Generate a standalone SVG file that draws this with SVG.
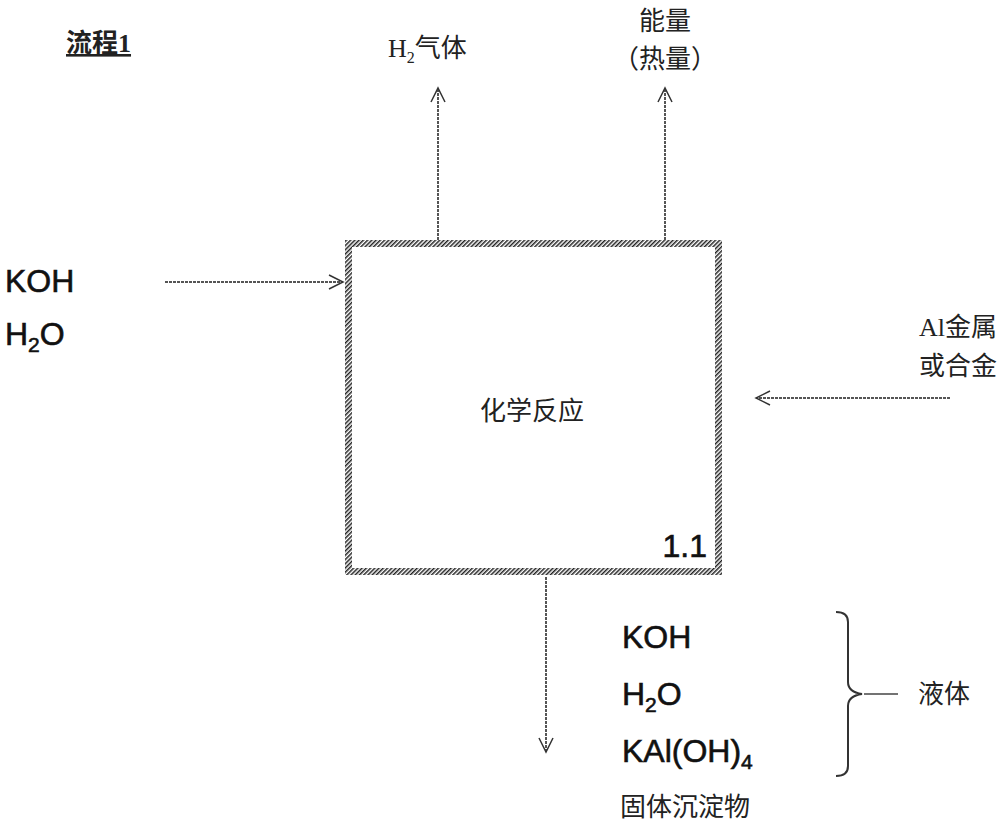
<svg xmlns="http://www.w3.org/2000/svg" width="1000" height="836" viewBox="0 0 1000 836">
<defs>
<pattern id="h" width="3" height="3" patternUnits="userSpaceOnUse" patternTransform="rotate(45)"><rect width="1.5" height="3" fill="#222"/></pattern>
<marker id="a" markerWidth="20" markerHeight="20" refX="15" refY="8" orient="auto" markerUnits="userSpaceOnUse"><path d="M1,1 L15,8 L1,15" fill="none" stroke="#333" stroke-width="1.5"/></marker>
</defs>
<style>
.l{stroke:#555;stroke-width:2;stroke-dasharray:3 1;fill:none;marker-end:url(#a)}
.c{font-family:"Liberation Serif","Noto Sans CJK SC",serif;font-size:26px;fill:#222}
.s{font-family:"Liberation Sans","Noto Sans CJK SC",sans-serif;font-size:32px;fill:#111;font-weight:500;stroke:#111;stroke-width:0.6}
</style>
<rect width="1000" height="836" fill="#fff"/>
<text x="66" y="52" class="c" font-size="27" font-weight="bold" text-decoration="underline">流程1</text>
<g id="box">
<path d="M345,240H722V575H345Z M352,247V568H715V247Z" fill="url(#h)" fill-rule="evenodd"/>
<text x="532" y="420" class="c" text-anchor="middle">化学反应</text>
<text x="707" y="557" class="s" font-size="27" stroke-width="0" text-anchor="end">1.1</text>
</g>
<g id="connectors">
<path class="l" d="M165,282H343"/>
<path class="l" d="M950,398H756"/>
<path class="l" d="M438,240V88"/>
<path class="l" d="M665,240V88"/>
<path class="l" d="M546,577V752"/>
<path d="M836,612q12,0 12,10v60q0,10 14,12q-14,2 -14,12v60q0,10 -12,10" fill="none" stroke="#333" stroke-width="2"/>
<path d="M864,694H898" stroke="#444" stroke-width="1.5"/>
</g>
<g id="in1"><text x="5" y="292" class="s">KOH</text><text x="5" y="345" class="s">H<tspan font-size="21" dy="7">2</tspan><tspan dy="-7">O</tspan></text></g>
<g id="in2"><text x="997" y="336" class="c" text-anchor="end">Al金属</text><text x="997" y="375" class="c" text-anchor="end">或合金</text></g>
<g id="h2"><text x="388" y="57" class="c">H<tspan font-size="16" dy="6">2</tspan><tspan dy="-6">气体</tspan></text></g>
<g id="en"><text x="665" y="30" class="c" text-anchor="middle">能量</text><text x="665" y="68" class="c" text-anchor="middle">（热量）</text></g>
<g id="out"><text x="622" y="648" class="s">KOH</text><text x="622" y="705" class="s">H<tspan font-size="21" dy="7">2</tspan><tspan dy="-7">O</tspan></text><text x="622" y="762" class="s">KAl(OH)<tspan font-size="21" dy="7">4</tspan></text><text x="620" y="816" class="c">固体沉淀物</text><text x="918" y="703" class="c">液体</text></g>
</svg>
